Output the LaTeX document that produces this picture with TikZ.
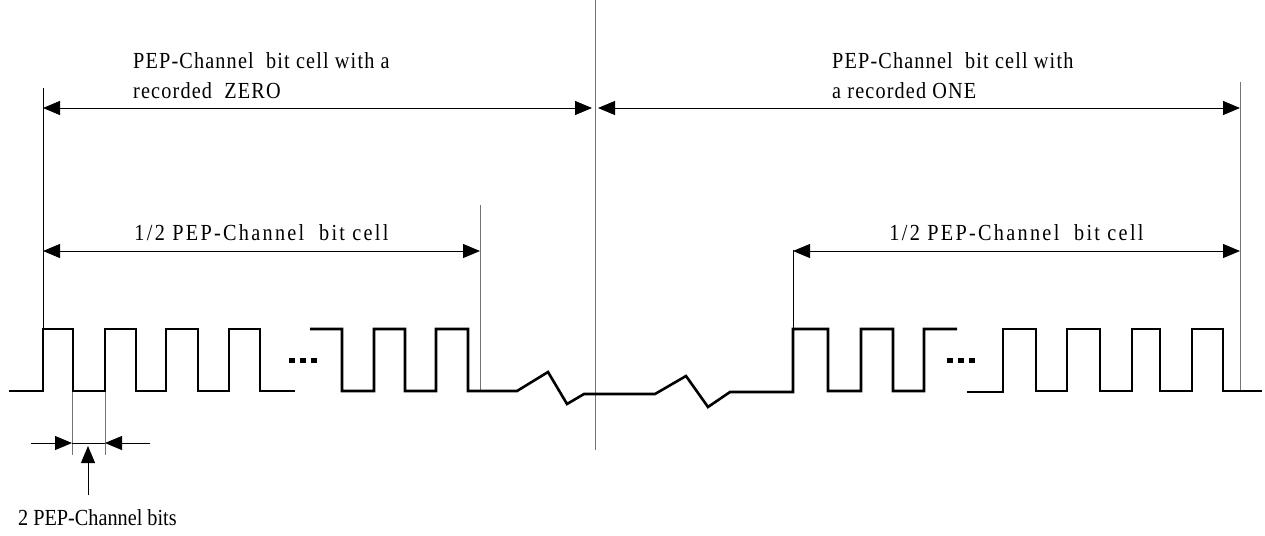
\documentclass[tikz,border=0pt]{standalone}
\usepackage{fontspec}
\setmainfont{Liberation Serif}[FakeStretch=0.88,LetterSpace=5]
\usepackage{tikz}
\usetikzlibrary{arrows.meta,calc}

\begin{document}
\begin{tikzpicture}[x=1pt,y=-1pt,>={Triangle[length=17pt,width=14pt]},
		guide/.style={black!55,line width=1pt},
		wave/.style={line width=2.6pt,line join=miter},
		dim/.style={line width=1pt,<->},
		lab/.style={inner sep=0pt,font=\fontsize{23}{30}\selectfont}]
		\useasboundingbox (0,0) rectangle (1265,535);
		% guide lines
		\coordinate (zl) at (43,108);
		\coordinate (zr) at (592,108);
		\coordinate (ol) at (598,108);
		\coordinate (or) at (1240,108);
		\coordinate (hl) at (43,251);
		\coordinate (hr) at (480,251);
		\coordinate (kl) at (793,251);
		\coordinate (kr) at (1240,251);
		\draw[line width=0.9pt] (43,88) -- (43,329);
		\draw[guide] (480,205) -- (480,391);
		\draw[guide] (595,0) -- (595,450);
		\draw[line width=0.9pt] (793,250) -- (793,329);
		\draw[guide] (1240,82) -- (1240,391);
		\draw[guide] (72,391) -- (72,455);
		\draw[guide] (105,391) -- (105,455);
		% waveform
		\draw[wave] (9,391) -- (43,391) -- (43,329) -- (73,329) -- (73,391) -- (105,391) -- (105,329) -- (136,329) -- (136,391) -- (166,391) -- (166,329) -- (198,329) -- (198,391) -- (229,391) -- (229,329) -- (260,329) -- (260,391) -- (295,391);
		\draw[wave] (310,329) -- (342,329) -- (342,391) -- (374,391) -- (374,329) -- (405,329) -- (405,391) -- (436,391) -- (436,329) -- (468,329) -- (468,391) -- (517,391) -- (548,372) -- (567,404) -- (584,394) -- (655,394) -- (686,376) -- (708,407) -- (730,392) -- (793,392) -- (793,329) -- (828,329) -- (828,391) -- (861,391) -- (861,329) -- (893,329) -- (893,391) -- (924,391) -- (924,329) -- (957,329);
		\draw[wave] (967,392) -- (1003,392) -- (1003,329) -- (1036,329) -- (1036,391) -- (1067,391) -- (1067,329) -- (1100,329) -- (1100,391) -- (1132,391) -- (1132,329) -- (1160,329) -- (1160,391) -- (1192,391) -- (1192,329) -- (1223,329) -- (1223,391) -- (1262,391);
		\foreach \x in {289,300,311,947,958,969}
			\fill (\x,357.5) rectangle ++(5.5,5.5);
		% dimension arrows
		\draw[dim] (zl) -- (zr);
		\draw[dim] (ol) -- (or);
		\draw[dim] (hl) -- (hr);
		\draw[dim] (kl) -- (kr);
		\coordinate (bl) at (31,443);
		\coordinate (ba) at (72,443);
		\coordinate (bb) at (105,443);
		\coordinate (br) at (150,443);
		\coordinate (bu) at (88,495);
		\coordinate (bt) at (88,446);
		\draw[line width=1pt,->] (bl) -- (ba);
		\draw[line width=1pt,->] (br) -- (bb);
		\draw[line width=1pt] (ba) -- (bb);
		\draw[line width=1pt,->] (bu) -- (bt);
		% labels
		\node[lab,anchor=base west] (zero1) at (133,68) {PEP-Channel\ \ bit cell with a};
		\node[lab,anchor=base west] (zero2) at (133,98) {recorded\ \ ZERO};
		\node[lab,anchor=base west] (one1) at (832,68) {PEP-Channel\ \ bit cell with};
		\node[lab,anchor=base west] (one2) at (832,98) {a recorded ONE};
		\node[lab,anchor=base,font=\fontsize{23}{30}\selectfont\addfontfeature{LetterSpace=10}] (half1) at ($(hl)!0.5!(hr)+(0,-11)$) {1/2 PEP-Channel\ \ bit cell};
		\node[lab,anchor=base,font=\fontsize{23}{30}\selectfont\addfontfeature{LetterSpace=10}] (half2) at ($(kl)!0.5!(kr)+(0,-11)$) {1/2 PEP-Channel\ \ bit cell};
		\node[lab,anchor=base west,font=\fontsize{23}{30}\selectfont\addfontfeature{LetterSpace=0}] (bits) at (18,525) {2 PEP-Channel bits};
\end{tikzpicture}
\end{document}
